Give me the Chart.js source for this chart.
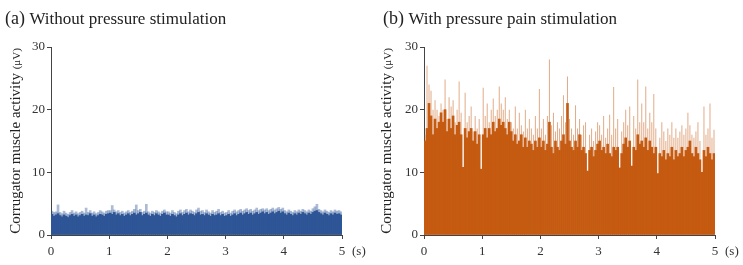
<!DOCTYPE html>
<html>
<head>
<meta charset="utf-8">
<script src="https://cdn.jsdelivr.net/npm/chart.js@4/dist/chart.umd.min.js"></script>
<style>
  body { margin: 0; background: #fff; }
  canvas { position: absolute; top: 0; }
</style>
</head>
<body>
<canvas id="chartA" width="371" height="265" style="left:0"></canvas>
<canvas id="chartB" width="372" height="265" style="left:371px"></canvas>
<script>
// values, one column ~ 1/29 s, 29 columns per second
// (a) without stimulation: body level and tip level
const baseA = [
  3.3, 3.0, 3.2, 3.4, 3.1, 2.9, 3.2, 3.0, 2.8, 3.1, 3.3, 3.0, 3.2, 2.9, 3.1, 3.3, 3.0, 3.2, 3.1, 3.4, 3.0, 3.2, 2.9, 3.1, 3.3, 3.2, 3.0, 3.3, 3.4,
  3.5, 3.3, 3.6, 3.2, 3.4, 3.1, 3.3, 3.0, 3.2, 3.4, 3.1, 3.3, 3.5, 3.2, 3.4, 3.6, 3.1, 3.3, 3.5, 3.2, 3.0, 3.3, 3.1, 3.4, 3.2, 3.0, 3.3, 3.5, 3.2,
  3.2, 3.0, 3.3, 3.1, 2.9, 3.2, 3.4, 3.1, 3.3, 3.5, 3.2, 3.4, 3.3, 3.1, 3.4, 3.6, 3.2, 3.3, 3.1, 3.4, 3.2, 3.0, 3.3, 3.1, 3.2, 3.4, 3.1, 3.3, 3.0,
  3.1, 3.3, 3.0, 3.2, 3.4, 3.1, 3.3, 3.5, 3.2, 3.4, 3.6, 3.3, 3.5, 3.2, 3.4, 3.6, 3.3, 3.5, 3.7, 3.4, 3.6, 3.3, 3.5, 3.7, 3.4, 3.6, 3.8, 3.5, 3.7,
  3.4, 3.2, 3.5, 3.3, 3.1, 3.4, 3.2, 3.5, 3.3, 3.6, 3.4, 3.2, 3.5, 3.3, 3.6, 3.8, 3.9, 3.6, 3.4, 3.2, 3.5, 3.3, 3.1, 3.4, 3.2, 3.5, 3.3, 3.4, 3.2
];
const peakA = [
  3.8, 3.6, 3.7, 4.8, 3.6, 3.4, 3.8, 3.5, 3.3, 3.6, 3.9, 3.5, 3.7, 3.4, 3.6, 3.8, 3.5, 4.3, 3.6, 3.9, 3.5, 3.7, 3.4, 3.6, 3.9, 3.7, 3.5, 3.8, 3.9,
  3.9, 4.7, 4.0, 3.7, 3.9, 3.6, 3.8, 3.5, 3.7, 3.9, 3.6, 3.8, 4.1, 4.8, 3.9, 4.1, 3.6, 3.8, 4.9, 3.7, 3.5, 3.8, 3.6, 3.9, 3.7, 3.5, 3.8, 4.0, 3.7,
  3.7, 3.5, 3.9, 3.6, 3.4, 3.8, 4.0, 3.6, 3.9, 4.1, 3.7, 4.0, 3.8, 3.6, 4.0, 4.3, 3.8, 3.9, 3.6, 4.0, 3.7, 3.5, 3.9, 3.6, 3.8, 4.1, 3.6, 3.8, 3.5,
  3.6, 3.9, 3.5, 3.8, 4.0, 3.7, 3.9, 4.1, 3.8, 4.0, 4.2, 3.9, 4.1, 3.8, 4.0, 4.3, 3.9, 4.1, 4.2, 4.0, 4.2, 3.9, 4.1, 4.3, 4.0, 4.2, 4.4, 4.1, 4.3,
  3.9, 3.7, 4.0, 3.8, 3.6, 3.9, 3.7, 4.0, 3.8, 4.1, 3.9, 3.7, 4.0, 3.8, 4.2, 4.5, 4.9, 4.1, 3.9, 3.7, 4.0, 3.8, 3.6, 3.9, 3.7, 4.0, 3.8, 3.9, 3.7
];

// (b) with pressure pain stimulation
const baseB = [
  15, 17, 21, 19, 16, 18.5, 17, 18, 19.5, 18, 20, 16.5, 18.5, 17, 19, 16, 17.5, 18, 16, 10.8, 17, 15.5, 16.5, 17, 15, 16.5, 14.5, 16, 10.5,
  16, 17, 15.5, 17, 16, 18, 16.5, 17, 18.5, 17.5, 18, 17, 16, 18, 16.5, 15, 16, 14.5, 15, 16, 14, 15.5, 14, 15, 14.5, 13.5, 15, 14, 15.5,
  14, 15, 13.5, 14.5, 18, 14, 13, 15, 14, 13.5, 15, 16, 14.5, 21, 15, 14, 13.5, 15, 14, 16, 13.5, 14, 13, 10.2, 13.5, 14, 12.5, 13.5, 14.5,
  15, 13.5, 14, 13, 14.5, 13, 12.5, 14, 13.5, 14, 10.7, 13, 14.5, 15.5, 14, 15, 11, 14, 13.5, 16, 14.5, 15, 14, 15.5, 13.5, 15, 14, 13, 14,
  9.8, 13, 12.5, 13.5, 12, 13, 12.5, 14, 12, 13.5, 12.5, 13, 14, 12.5, 13.5, 14, 15, 13, 12.5, 14, 13, 12, 10, 13.5, 12.5, 14, 13, 12, 13
];
const peakB = [
  16, 27, 24, 23, 20, 21.5, 20, 19, 21, 20, 24.8, 18.5, 22, 20.5, 21.5, 18, 20, 24.5, 19.5, 10.8, 22.7, 18, 19, 20.5, 16.5, 19, 17, 18.5, 10.5,
  23.5, 19, 21, 18, 20, 21.8, 19, 20, 23.7, 21, 20, 22, 18.5, 20, 18, 17, 20.5, 17, 19.5, 17.5, 16.5, 20, 17, 18.5, 17, 16, 19, 17, 23.3,
  17, 18.5, 16, 19, 28, 17.5, 19.5, 16.5, 18, 17, 19, 22.3, 18, 25.3, 18.5, 17, 16, 20.7, 17, 18.5, 16, 17.5, 18, 10.2, 16, 17, 15, 16.5, 18,
  17.5, 16, 19, 15.5, 17, 19.2, 16, 23.6, 17, 18.5, 10.7, 16.5, 18, 20, 17.5, 20.5, 11, 19, 17, 24.8, 18, 21, 18, 23.7, 17, 19.5, 18, 22.5, 17,
  9.8, 15.5, 18, 16.5, 15, 17, 16, 18, 15.5, 17, 15.5, 16.5, 17.5, 16, 17, 19.5, 17.5, 16, 15.5, 16.5, 18, 15, 10, 20.5, 16, 17, 21, 15.5, 16.8
];

const yTicks = [0, 10, 20, 30];
const xTicks = [0, 1, 2, 3, 4, 5];
const duration = 5;

const serif = '"Liberation Serif", "DejaVu Serif", serif';

function toPoints(values) {
  const dt = duration / values.length;
  return values.map((v, i) => ({ x: (i + 0.5) * dt, y: v }));
}

const panelText = {
  id: 'panelText',
  afterDraw(chart, args, o) {
    const { ctx, chartArea: a } = chart;
    ctx.save();
    ctx.fillStyle = '#222';
    ctx.textAlign = 'left';
    ctx.textBaseline = 'alphabetic';

    // panel title
    let x = a.left - o.titleOffset;
    ctx.font = '18px ' + serif;
    ctx.fillText(o.tag, x, 24);
    x += ctx.measureText(o.tag + ' ').width;
    ctx.font = '17px ' + serif;
    ctx.fillText(o.title, x, 24);

    // y axis title, unit in smaller type
    const main = 'Corrugator muscle activity ';
    const unit = '(\u03bcV)';
    ctx.font = '15px ' + serif;
    const w1 = ctx.measureText(main).width;
    ctx.font = '11px ' + serif;
    const w2 = ctx.measureText(unit).width;
    ctx.translate(a.left - o.yTitleOffset, (a.top + a.bottom) / 2);
    ctx.rotate(-Math.PI / 2);
    ctx.font = '15px ' + serif;
    ctx.fillText(main, -(w1 + w2) / 2, 0);
    ctx.font = '11px ' + serif;
    ctx.fillText(unit, -(w1 + w2) / 2 + w1, 0);
    ctx.setTransform(1, 0, 0, 1, 0, 0);

    // time unit at the end of the x axis
    ctx.font = '13px ' + serif;
    ctx.fillStyle = '#333';
    ctx.textBaseline = 'middle';
    ctx.fillText('(s)', a.right + 10, a.bottom + 17);
    ctx.restore();
  }
};

function makeChart(id, base, peak, dark, light, peakWidth, yWidth, padRight, text) {
  return new Chart(document.getElementById(id), {
    type: 'bar',
    data: {
      datasets: [{
        data: toPoints(base),
        backgroundColor: dark,
        barPercentage: 1,
        categoryPercentage: 1,
        grouped: false,
        order: 0
      }, {
        data: toPoints(peak),
        backgroundColor: light,
        barPercentage: peakWidth,
        categoryPercentage: 1,
        grouped: false,
        order: 1
      }]
    },
    options: {
      responsive: false,
      animation: false,
      layout: { padding: { left: 0, right: padRight, top: 47, bottom: 0 } },
      plugins: {
        legend: { display: false },
        tooltip: { enabled: false },
        panelText: text
      },
      scales: {
        x: {
          type: 'linear',
          min: 0,
          max: duration,
          offset: false,
          afterBuildTicks(s) { s.ticks = xTicks.map(v => ({ value: v })); },
          afterFit(s) { s.height = 30; },
          ticks: {
            color: '#333',
            padding: 5,
            maxRotation: 0,
            font: { family: serif, size: 13 }
          },
          grid: { offset: false, drawOnChartArea: false, tickLength: 4, tickColor: '#444' },
          border: { color: '#444', width: 1 }
        },
        y: {
          min: 0,
          max: 30,
          afterBuildTicks(s) { s.ticks = yTicks.map(v => ({ value: v })); },
          afterFit(s) { s.width = yWidth; },
          ticks: {
            color: '#333',
            padding: 2,
            font: { family: serif, size: 13 }
          },
          grid: { drawOnChartArea: false, tickLength: 4, tickColor: '#444' },
          border: { color: '#444', width: 1 }
        }
      }
    },
    plugins: [panelText]
  });
}

makeChart('chartA', baseA, peakA, 'rgb(46,85,150)', 'rgba(46,85,150,0.4)', 1, 51, 29,
  { tag: '(a)', title: 'Without pressure stimulation', titleOffset: 46, yTitleOffset: 31 });
makeChart('chartB', baseB, peakB, 'rgb(197,90,17)', 'rgba(197,90,17,0.5)', 0.5, 53, 28,
  { tag: '(b)', title: 'With pressure pain stimulation', titleOffset: 41, yTitleOffset: 33 });
</script>
</body>
</html>
